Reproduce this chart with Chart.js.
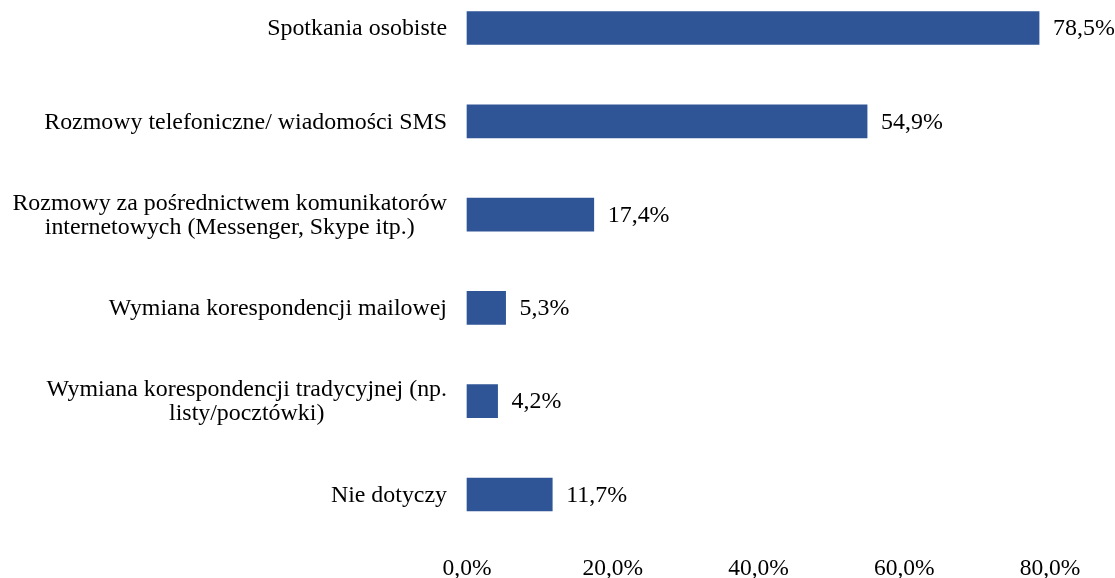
<!DOCTYPE html>
<html>
<head>
<meta charset="utf-8">
<script src="https://cdn.jsdelivr.net/npm/chart.js@4.4.1/dist/chart.umd.min.js"></script>
<style>
  html, body { margin: 0; padding: 0; background: #fff; }
  #wrap { width: 1115px; height: 578px; }
</style>
</head>
<body>
<div id="wrap"><canvas id="chart" width="1115" height="578"></canvas></div>
<script>
// kategorie (etykiety osi Y)
const categories = [
  ["Spotkania osobiste"],
  ["Rozmowy telefoniczne/ wiadomości SMS"],
  ["Rozmowy za pośrednictwem komunikatorów", "internetowych (Messenger, Skype itp.)"],
  ["Wymiana korespondencji mailowej"],
  ["Wymiana korespondencji tradycyjnej (np.", "listy/pocztówki)"],
  ["Nie dotyczy"],
];
// wartości w procentach
const values = [78.5, 54.9, 17.4, 5.3, 4.2, 11.7];
// podziałka osi X
const xTicks = [0, 20, 40, 60, 80];

const FONT = '"Liberation Serif", "Times New Roman", serif';
const FONT_SIZE = 23.9;
const TICK_SIZE = 23.5;
const barColor = "#2F5597";

// format 12,3%
function fmt(v) {
  return v.toFixed(1).replace(".", ",") + "%";
}

// Plugin rysujący etykiety kategorii i wartości
const labelsPlugin = {
  id: "labelsPlugin",
  afterDraw(chart) {
    const ctx = chart.ctx;
    const yScale = chart.scales.y;
    const right = chart.chartArea.left - 20;
    const lineH = 24;
    ctx.save();
    ctx.font = FONT_SIZE + "px " + FONT;
    ctx.fillStyle = "#000";
    ctx.textBaseline = "middle";
    ctx.textAlign = "center";
    categories.forEach((lines, i) => {
      const cy = yScale.getPixelForTick(i) + 1;
      const w = Math.max(...lines.map((l) => ctx.measureText(l).width));
      const cx = right - w / 2;
      const y0 = cy - ((lines.length - 1) * lineH) / 2;
      lines.forEach((l, j) => ctx.fillText(l, cx, y0 + j * lineH));
    });
    // wartości przy słupkach
    const meta = chart.getDatasetMeta(0);
    ctx.textAlign = "left";
    meta.data.forEach((bar, i) => {
      ctx.fillText(fmt(values[i]), bar.x + 14, bar.y + 1);
    });
    ctx.restore();
  },
};

const ctx = document.getElementById("chart").getContext("2d");
const chart = new Chart(ctx, {
  type: "bar",
  data: {
    labels: categories.map((c) => c.join(" ")),
    datasets: [
      {
        data: values,
        backgroundColor: barColor,
        borderWidth: 0,
        barThickness: 33,
        clip: false,
      },
    ],
  },
  options: {
    indexAxis: "y",
    responsive: false,
    animation: false,
    devicePixelRatio: 1,
    layout: {
      padding: { left: 467, right: 65, top: 28, bottom: 0 },
    },
    plugins: {
      legend: { display: false },
      tooltip: { enabled: false },
    },
    scales: {
      y: {
        display: false,
        offset: false,
      },
      x: {
        min: 0,
        max: 80,
        afterBuildTicks: (scale) => {
          scale.ticks = xTicks.map((v) => ({ value: v }));
        },
        afterFit: (scale) => {
          // etykiety osi X nisko, pod wykresem
          scale.height = 83.5;
          scale.paddingRight = 0;
          scale.paddingLeft = 0;
        },
        grid: { display: false, drawTicks: false },
        border: { display: false },
        ticks: {
          padding: 60,
          color: "#000",
          font: { family: FONT, size: TICK_SIZE },
          maxRotation: 0,
          callback: (v) => fmt(v),
        },
      },
    },
  },
  plugins: [labelsPlugin],
});
</script>
</body>
</html>
